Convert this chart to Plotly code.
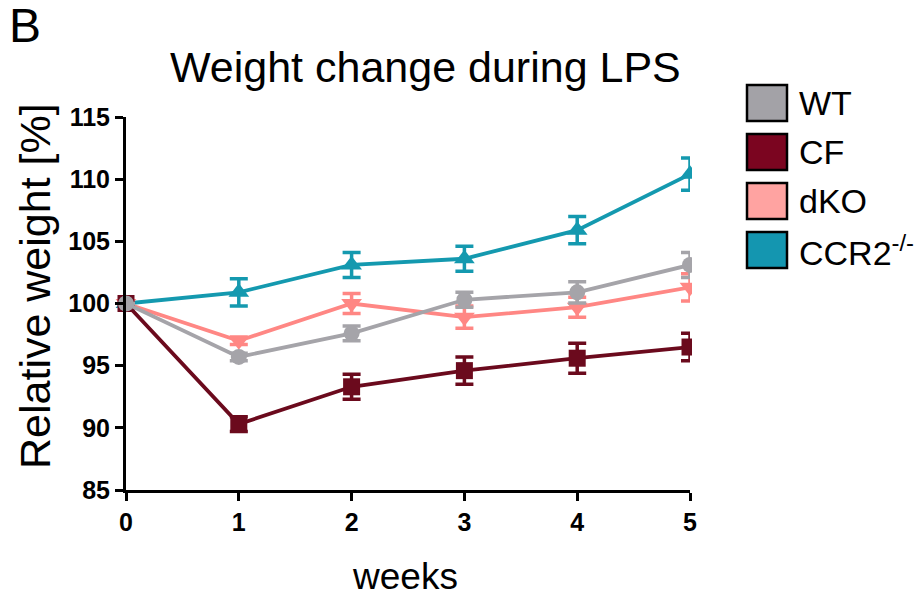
import plotly.graph_objects as go

# Weekly relative body weight (%) during LPS treatment, mean ± SEM
weeks = [0, 1, 2, 3, 4, 5]
groups = ["WT", "CF", "dKO", "CCR2"]
legend_labels = ["WT", "CF", "dKO", "CCR2<sup>-/-</sup>"]

wt_mean = [100.0, 95.7, 97.6, 100.3, 100.9, 103.1]
wt_sem = [0.0, 0.3, 0.6, 0.6, 0.85, 1.0]

cf_mean = [100.0, 90.3, 93.3, 94.6, 95.6, 96.5]
cf_sem = [0.0, 0.6, 1.0, 1.1, 1.2, 1.1]

dko_mean = [100.0, 97.0, 100.0, 98.9, 99.7, 101.3]
dko_sem = [0.0, 0.3, 0.8, 0.9, 0.8, 1.1]

ccr2_mean = [100.0, 100.9, 103.1, 103.6, 105.9, 110.4]
ccr2_sem = [0.0, 1.1, 1.0, 1.0, 1.1, 1.3]

y_ticks = [85, 90, 95, 100, 105, 110, 115]

FONT = "Liberation Sans, Arial, sans-serif"

series = {
    "WT": dict(mean=wt_mean, sem=wt_sem, line="#A5A4A9", box="#A3A2A7", symbol="circle", size=16),
    "CF": dict(mean=cf_mean, sem=cf_sem, line="#6B0A1D", box="#7B0520", symbol="square", size=17),
    "dKO": dict(mean=dko_mean, sem=dko_sem, line="#FF8784", box="#FFA3A1", symbol="triangle-down", size=18),
    "CCR2": dict(mean=ccr2_mean, sem=ccr2_sem, line="#1499AF", box="#1496B0", symbol="triangle-up", size=18),
}

fig = go.Figure()

# draw order: top-most series last
for name in ["CCR2", "dKO", "CF", "WT"]:
    s = series[name]
    fig.add_trace(go.Scatter(
        x=weeks, y=s["mean"], name=name, mode="lines+markers",
        line=dict(color=s["line"], width=3.8),
        marker=dict(color=s["line"], symbol=s["symbol"], size=s["size"], line=dict(width=0)),
        error_y=dict(type="data", array=s["sem"], color=s["line"], thickness=3.5, width=9),
        cliponaxis=False, showlegend=False,
    ))

# plot area geometry (pixels)
W, H = 923, 597
L, R, T, B = 126, 233, 117, 107

fig.update_layout(
    width=W, height=H,
    margin=dict(l=L, r=R, t=T, b=B, pad=0),
    paper_bgcolor="white", plot_bgcolor="white",
    showlegend=False,
    font=dict(family=FONT, color="black"),
)

fig.update_xaxes(
    range=[0, 5], tickvals=weeks, ticktext=[str(w) for w in weeks],
    showgrid=False, zeroline=False,
    showline=True, linecolor="black", linewidth=3,
    ticks="outside", ticklen=8, tickwidth=3, tickcolor="black",
    tickfont=dict(family=FONT, size=25, weight="bold", color="black"),
)
fig.update_yaxes(
    range=[85, 115], tickvals=y_ticks, ticktext=[str(v) for v in y_ticks],
    showgrid=False, zeroline=False,
    showline=True, linecolor="black", linewidth=3,
    ticks="outside", ticklen=8, tickwidth=3, tickcolor="black",
    tickfont=dict(family=FONT, size=25, weight="bold", color="black"),
)

# trim markers that extend beyond the right end of the x axis
fig.add_shape(type="rect", xref="paper", yref="paper",
              x0=1.0 + 2 / 564, x1=1.09, y0=-0.02, y1=1.1,
              fillcolor="white", line=dict(width=0), layer="above")

annotations = [
    dict(text="B", x=25, y=25, size=48),
    dict(text="Weight change during LPS", x=425, y=67, size=43),
    dict(text="weeks", x=405, y=576, size=37),
]
for a in annotations:
    fig.add_annotation(
        text=a["text"], xref="paper", yref="paper",
        x=(a["x"] - L) / (W - L - R), y=(H - B - a["y"]) / (H - T - B),
        xanchor="center", yanchor="middle", showarrow=False,
        font=dict(family=FONT, size=a["size"], color="black"),
    )

fig.add_annotation(
    text="Relative weight [%]", xref="paper", yref="paper",
    x=(35 - L) / (W - L - R), y=(H - B - 286) / (H - T - B),
    xanchor="center", yanchor="middle", textangle=-90, showarrow=False,
    font=dict(family=FONT, size=43, color="black"),
)

# legend: filled boxes with labels
box_top = [85, 134, 183, 232]
for name, label, top in zip(groups, legend_labels, box_top):
    s = series[name]
    fig.add_shape(
        type="rect", xref="paper", yref="paper",
        xsizemode="pixel", ysizemode="pixel",
        xanchor=1, yanchor=1,
        x0=747 - (W - R), x1=787 - (W - R),
        y0=T - top, y1=T - (top + 36),
        fillcolor=s["box"], line=dict(color="black", width=2.5), layer="above",
    )
    fig.add_annotation(
        text=label, xref="paper", yref="paper",
        x=(797 - L) / (W - L - R), y=(H - B - (top + 18)) / (H - T - B),
        xanchor="left", yanchor="middle", showarrow=False,
        font=dict(family=FONT, size=34, color="black"),
    )

fig.write_html("out.html")
